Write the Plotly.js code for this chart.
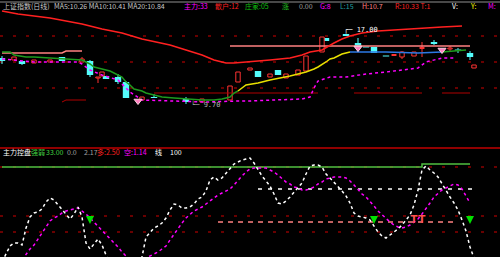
<!DOCTYPE html>
<html><head><meta charset="utf-8">
<script src="https://cdn.plot.ly/plotly-3.0.1.min.js"></script>
<style>html,body{margin:0;padding:0;background:#000;}#chart{width:500px;height:257px;}</style>
</head><body><div id="chart"></div>
<script>
// ---------- price panel data (day index, price) ----------
const maLongDays = [0,4,12,20,25,30,35,42,46,50,53,56,58,62,67,72,75,77,80,83,85,87,90,94,98,103,110,115];
const maLongVals = [18.9,18.6,18.2,17.6,17.1,16.7,16.1,15.5,15.0,14.5,14.0,13.7,13.7,13.8,14.0,14.2,14.5,14.8,15.0,15.7,16.1,16.4,16.7,16.9,17.0,17.2,17.3,17.4];

const maMidDownDays = [0,2,3,5,6,8,13,20,22,23,25,27,28,30,31,32,33,35,36,38,40,43,46,50,53,55,57,58,59];
const maMidDownVals = [14.8,14.8,14.5,14.4,14.3,14.3,14.2,14.0,13.6,13.3,13.1,12.9,12.7,12.3,11.8,11.5,11.1,10.9,10.7,10.5,10.3,10.2,10.1,10.0,10.0,10.1,10.3,10.7,10.9];
const maMidUpDays = [59,61,64,67,72,76,78,79,81,82,83,85,87];
const maMidUpVals = [10.9,11.5,11.7,12.0,12.4,12.8,13.1,13.3,13.8,14.1,14.2,14.6,14.8];
const maMidFlatDays = [87,96,104,110];
const maMidFlatVals = [14.8,14.8,14.7,14.8];
const maMidEndDays = [110,115,116];
const maMidEndVals = [14.8,15.0,15.0];

const supportDays = [0,8,19,20,22,25,29,31,32,35,51,59,62,68,75,77,78,79,82,86,91,96,102,104,106,110,113];
const supportVals = [14.1,13.8,13.8,13.6,13.0,12.5,12.0,11.2,10.8,10.0,9.8,9.9,9.9,10.0,10.1,10.3,11.2,11.9,12.3,12.3,12.6,12.8,13.1,13.2,13.8,14.2,14.2];

const pressureDays = [0,15,16,20,null,57,117];
const pressureVals = [14.7,14.7,14.9,14.9,null,15.4,15.4];

const floorDays = [15,16,21,null,38,79,null,88,105,null,110,117];
const floorVals = [9.8,10.0,10.0,null,10.7,10.7,null,10.7,10.7,null,10.7,10.7];

// falling candles (cyan)
const downDay   = [0,5,15,22,26,29,31,38,46,64,69,81,86,89,91,93,96,108,114,117];
const downOpen  = [14.2,13.9,14.3,13.9,12.4,12.3,11.8,10.3,10.1,12.9,13.0,16.2,16.6,15.7,15.35,15.3,14.45,15.8,15.05,14.7];
const downHigh  = [14.4,13.9,14.3,14.0,12.4,12.6,11.9,10.6,10.3,12.9,13.0,16.2,16.6,16.2,15.35,15.3,14.45,16.0,15.2,14.9];
const downLow   = [13.6,13.5,13.9,12.3,12.1,11.6,10.2,10.2,9.6,12.3,12.5,15.9,16.4,14.8,15.25,14.7,14.35,15.5,14.7,14.0];
const downClose = [13.9,13.6,13.9,12.5,12.1,11.8,10.2,10.2,9.8,12.3,12.5,15.9,16.4,15.3,15.25,14.7,14.35,15.6,14.95,14.3];
// rising candles (red)
const upDay   = [3,8,12,20,24,25,35,50,57,59,62,67,71,74,76,80,98,100,103,105,112,118];
const upOpen  = [14.0,13.7,13.8,13.8,12.2,12.4,10.0,9.8,10.0,11.8,13.0,12.3,12.2,12.5,12.9,14.8,14.45,14.3,14.4,15.15,15.1,13.2];
const upHigh  = [14.3,14.0,14.0,14.3,12.3,12.8,10.3,10.1,11.4,12.8,13.2,12.6,12.6,13.0,14.4,16.3,14.55,14.9,14.8,15.8,15.4,13.5];
const upLow   = [14.0,13.7,13.8,13.8,11.7,12.4,10.0,9.8,10.0,11.8,13.0,12.3,12.2,12.5,12.9,14.8,14.45,14.1,14.4,14.3,14.9,13.2];
const upClose = [14.3,14.0,14.0,14.1,12.3,12.8,10.3,10.1,11.4,12.8,13.2,12.6,12.6,13.0,14.4,16.3,14.55,14.8,14.8,15.25,15.2,13.5];

const signalDays = [34,89,110];
const signalVals = [9.9,15.2,15.0];

const priceGrid = [16.4,13.8,11.2];
const highDay = 85, highVal = 17.0, highLabel = '17.00';
const lowDay = 51, lowVal = 9.6, lowLabel = '9.70';

// ---------- indicator panel ----------
const kVals = [-5,3,11,14,14,12,29,40,44,45,
  48,55,59,57,52,47,43,38,43,50,
  40,14,8,13,18,12,2,-8,-12,-15,
  -16,-16,-14,-10,-5,0,20,25,29,31,
  34,39,47,53,52,49,49,50,53,58,
  60,66,77,80,77,79,84,89,93,95,
  97,98,99,94,87,81,76,71,63,54,
  53,56,60,65,70,74,83,91,92,92,
  90,83,79,75,71,66,61,54,44,41,
  40,39,37,31,25,21,19,22,25,28,
  32,37,42,52,67,87,91,87,84,80,
  73,67,60,54,47,37,26,10,-1];
const dVals = [null,null,null,null,null,-3,3,8,12,18,
  25,31,36,39,41,44,46,47,48,49,
  46,43,39,35,30,26,22,18,15,10,
  5,1,-3,-5,-5,-3,-1,1,3,5,
  8,11,17,23,28,34,39,43,46,48,
  50,53,56,59,62,64,66,68,72,77,
  81,85,88,89,89,89,89,87,85,82,
  78,75,73,70,69,67,67,68,70,73,
  75,78,79,80,80,80,79,76,72,67,
  63,60,56,51,46,42,39,35,32,30,
  29,30,32,35,38,43,48,54,60,64,
  67,69,71,73,72,68,61,54];
const bandDays = [0,103,105,117];
const bandVals = [90,90,93,93];
const whiteLevelDays = [64,118], whiteLevel = 68;
const pinkLevelDays = [54,113], pinkLevel = 35;
const buyDays = [22,93,117], buyVals = [33,33,33];
const tDays = [103,105], tVals = [37,37];
const indGrid = [90,41,25];

const headTexts = ['上证指数(日线)','MA5:10.26 MA10:10.41 MA20:10.84','主力:33','散户:12','庄家:05','涨','0.00','G:8','L:15','H:10.7','R:10.33 T:1','V:','Y:','M:'];
const headColors = ['#c8c8c8','#c8c8c8','#ff00ff','#ff2020','#10c010','#20c020','#a0a0a0','#ff00ff','#20a0a0','#ff8080','#ff2020','#ffffff','#ffff00','#ff00ff'];
const subTexts = ['主力控盘','强弱','33.00','0.0','2.17','多:2.50','空:1.14','线','100'];
const subColors = ['#ffffff','#40d040','#40d040','#a0a0a0','#a0a0a0','#ff2020','#ff00ff','#ffffff','#ffffff'];

// ---------- build ----------
function idx(arr){ return arr.map((_,i)=>i); }
function wicks(days,o,h,l,c){
  const xs=[],ys=[];
  for(let i=0;i<days.length;i++){
    const top=Math.max(o[i],c[i]), bot=Math.min(o[i],c[i]);
    if(h[i]>top){xs.push(days[i],days[i],null);ys.push(top,h[i],null);}
    if(l[i]<bot){xs.push(days[i],days[i],null);ys.push(l[i],bot,null);}
  }
  return {xs,ys};
}
const dw = wicks(downDay,downOpen,downHigh,downLow,downClose);
const uw = wicks(upDay,upOpen,upHigh,upLow,upClose);

const traces = [
  {type:'bar',x:downDay,base:downClose,y:downOpen.map((o,i)=>o-downClose[i]),width:1.6,
   marker:{color:'#54fcfc',line:{width:0}},yaxis:'y'},
  {type:'bar',x:upDay,base:upOpen,y:upClose.map((c,i)=>Math.max(c-upOpen[i],0.08)),width:1.1,
   marker:{color:'#000000',line:{color:'#ff3232',width:1}},yaxis:'y'},
  {type:'scatter',mode:'lines',x:dw.xs,y:dw.ys,line:{color:'#54fcfc',width:1},yaxis:'y'},
  {type:'scatter',mode:'lines',x:uw.xs,y:uw.ys,line:{color:'#ff3232',width:1},yaxis:'y'},
  {type:'scatter',mode:'lines',x:floorDays,y:floorVals,line:{color:'#b00000',width:1},yaxis:'y'},
  {type:'scatter',mode:'lines',x:pressureDays,y:pressureVals,line:{color:'#ff8080',width:1.5},yaxis:'y'},
  {type:'scatter',mode:'lines',x:supportDays,y:supportVals,line:{color:'#ff00ff',width:1.5,dash:'dot'},yaxis:'y'},
  {type:'scatter',mode:'lines',x:maLongDays,y:maLongVals,line:{color:'#ff2020',width:1.5},yaxis:'y'},
  {type:'scatter',mode:'lines',x:maMidDownDays,y:maMidDownVals,line:{color:'#1e9a1e',width:1.5},yaxis:'y'},
  {type:'scatter',mode:'lines',x:maMidUpDays,y:maMidUpVals,line:{color:'#e8e000',width:1.5},yaxis:'y'},
  {type:'scatter',mode:'lines',x:maMidFlatDays,y:maMidFlatVals,line:{color:'#2b78e4',width:1.5},yaxis:'y'},
  {type:'scatter',mode:'lines',x:maMidEndDays,y:maMidEndVals,line:{color:'#1e9a1e',width:1.5},yaxis:'y'},
  {type:'scatter',mode:'markers',x:signalDays,y:signalVals,marker:{symbol:'triangle-down',size:7,color:'#ff80c0',line:{color:'#ffd0e0',width:1}},yaxis:'y'},
  // indicator
  {type:'scatter',mode:'lines',x:bandDays,y:bandVals,line:{color:'#50c040',width:1.5,shape:'hv'},yaxis:'y2'},
  {type:'scatter',mode:'lines',x:whiteLevelDays,y:whiteLevelDays.map(()=>whiteLevel),line:{color:'#ffffff',width:1.5,dash:'4px,6px'},yaxis:'y2'},
  {type:'scatter',mode:'lines',x:pinkLevelDays,y:pinkLevelDays.map(()=>pinkLevel),line:{color:'#ff8080',width:1.5,dash:'5px,5px'},yaxis:'y2'},
  {type:'scatter',mode:'lines',x:idx(dVals),y:dVals,line:{color:'#ff00ff',width:1.5,dash:'dot'},yaxis:'y2'},
  {type:'scatter',mode:'lines',x:idx(kVals),y:kVals,line:{color:'#ffffff',width:1.5,dash:'dot'},yaxis:'y2'},
  {type:'scatter',mode:'markers',x:buyDays,y:buyVals,marker:{symbol:'arrow-down',size:8,color:'#00e000'},yaxis:'y2'},
  {type:'scatter',mode:'text',x:tDays,y:tVals,text:tDays.map(()=>'T'),textfont:{color:'#ff5050',size:10,family:'DejaVu Sans',weight:'bold'},yaxis:'y2'}
];

const shapes = [
  {type:'line',xref:'paper',yref:'paper',x0:0,x1:1,y0:1-2/257,y1:1-2/257,line:{color:'#909090',width:1}},
  {type:'line',xref:'paper',yref:'paper',x0:0,x1:1,y0:1-148/257,y1:1-148/257,line:{color:'#c00000',width:1.5}}
];
priceGrid.forEach(v=>shapes.push({type:'line',xref:'paper',yref:'y',x0:0,x1:1,y0:v,y1:v,layer:'below',line:{color:'#d00000',width:1,dash:'3px,10px'}}));
indGrid.forEach(v=>shapes.push({type:'line',xref:'paper',yref:'y2',x0:0,x1:1,y0:v,y1:v,layer:'below',line:{color:'#d00000',width:1,dash:'3px,10px'}}));

const headX = [1,52,182,213,243,280,297,318,338,360,393,450,468,486];
const subX = [1,29,44,65,82,95,122,153,168];
const annotations = [];
headTexts.forEach((t,i)=>annotations.push({xref:'paper',yref:'paper',x:headX[i]/500,y:1-6/257,xanchor:'left',yanchor:'middle',
  text:t,showarrow:false,font:{size:7,color:headColors[i],family:'Noto Sans CJK SC'}}));
subTexts.forEach((t,i)=>annotations.push({xref:'paper',yref:'paper',x:subX[i]/500,y:1-152/257,xanchor:'left',yanchor:'middle',
  text:t,showarrow:false,font:{size:7,color:subColors[i],family:'Noto Sans CJK SC'}}));
annotations.push({xref:'x',yref:'y',x:highDay,y:highVal,xanchor:'left',yanchor:'middle',text:'┌─ '+highLabel,showarrow:false,font:{size:7,color:'#ffffff',family:'DejaVu Sans Mono'}});
annotations.push({xref:'x',yref:'y',x:lowDay,y:lowVal,xanchor:'center',yanchor:'middle',text:'└─ '+lowLabel,showarrow:false,font:{size:7,color:'#b0b0b0',family:'DejaVu Sans Mono'}});

const layout = {
  width:500,height:257,margin:{l:0,r:0,t:0,b:0},
  paper_bgcolor:'#000',plot_bgcolor:'#000',showlegend:false,barmode:'overlay',hovermode:false,
  xaxis:{range:[-0.5,124.5],visible:false,fixedrange:true},
  yaxis:{domain:[1-145/257,1],range:[5.5,20],visible:false},
  yaxis2:{domain:[0,107/257],range:[0,107],visible:false,anchor:'x'},
  shapes:shapes,annotations:annotations
};
Plotly.newPlot('chart',traces,layout,{staticPlot:true,displayModeBar:false});
</script></body></html>
